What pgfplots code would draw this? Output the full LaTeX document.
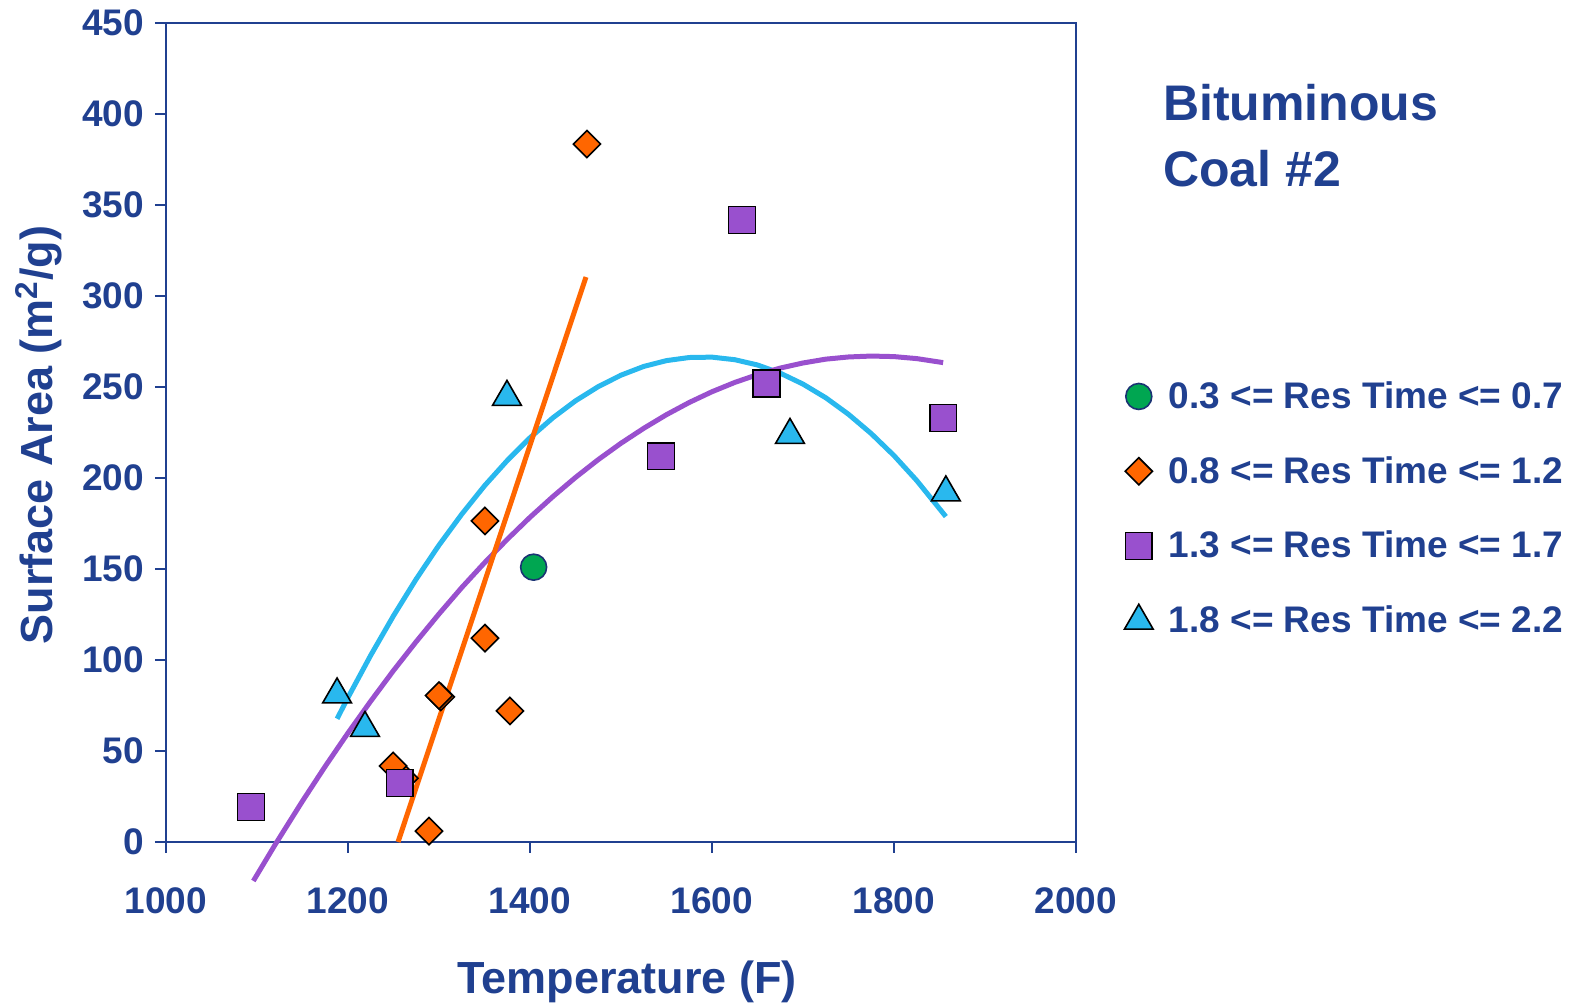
\documentclass[border=0pt]{standalone}
\usepackage{pgfplots}
\pgfplotsset{compat=1.18}
\usepackage{fontspec}
\setmainfont{Liberation Sans}

\definecolor{axisblue}{RGB}{32,64,144}
\definecolor{ptgreen}{RGB}{0,166,81}
\definecolor{ptorange}{RGB}{255,102,0}
\definecolor{ptpurple}{RGB}{153,80,206}
\definecolor{ptcyan}{RGB}{41,184,238}

\begin{document}
\begin{tikzpicture}
\begin{axis}[
  scale only axis,
  width=455pt, height=409.5pt,
  xmin=1000, xmax=2000, ymin=0, ymax=450,
  xtick={1000,1200,...,2000},
  ytick={0,50,...,450},
  clip=false,
  tick pos=left,
  tick align=outside,
  major tick length=5.5pt,
  axis line style={axisblue, line width=0.9pt},
  tick style={axisblue, line width=0.9pt},
  /pgf/number format/assume math mode=true,
  /pgf/number format/1000 sep={},
  ticklabel style={font=\bfseries\fontsize{18.5}{20}\selectfont, text=axisblue},
  xticklabel style={yshift=-14pt},
  yticklabel style={xshift=-2pt},
  xlabel={Temperature (F)},
  ylabel={Surface Area (m\textsuperscript{2}/g)},
  xlabel style={at={(axis description cs:0.5066,-0.1844)}, anchor=base,
    font=\bfseries\fontsize{22.5}{24}\selectfont, text=axisblue},
  ylabel style={at={(axis description cs:-0.1242,0.497)}, anchor=base, rotate=0,
    font=\bfseries\fontsize{22.5}{24}\selectfont, text=axisblue},
  legend cell align=left,
  legend image code/.code={%
    \path[draw=none, fill=none] (0.3cm-8.5pt,0cm) -- (0.3cm+13pt,0cm);
    \draw[#1] plot coordinates {(0.3cm,0cm)};},
  legend style={at={(axis description cs:1.0433,0.407)}, anchor=west, draw=none, fill=none,
    font=\bfseries\fontsize{18.5}{20}\selectfont, text=axisblue, row sep=18.5pt},
]

% fitted trend for 1.8-2.2 s residence time
\addplot[ptcyan, line width=2.5pt, forget plot] coordinates {
 (1188,67.7) (1200,79.4) (1225,102.6) (1250,124.3) (1275,144.5) (1300,163.1)
 (1325,180.1) (1350,195.7) (1375,209.6) (1400,222.1) (1425,233.0) (1450,242.4)
 (1475,250.2) (1500,256.5) (1525,261.3) (1550,264.5) (1575,266.2) (1600,266.4)
 (1625,265.0) (1650,262.1) (1675,257.6) (1700,251.6) (1725,244.1) (1750,235.0)
 (1775,224.4) (1800,212.3) (1825,198.6) (1857,178.8)
};
% fitted trend for 1.3-1.7 s residence time
\addplot[ptpurple, line width=2.5pt, forget plot] coordinates {
 (1096,-21.4) (1120,-1.4) (1150,22.5) (1175,41.6) (1200,59.9) (1225,77.4)
 (1250,94.2) (1275,110.1) (1300,125.3) (1325,139.8) (1350,153.4) (1375,166.3)
 (1400,178.4) (1425,189.7) (1450,200.3) (1475,210.1) (1500,219.1) (1525,227.3)
 (1550,234.8) (1575,241.5) (1600,247.4) (1625,252.5) (1650,256.8) (1675,260.4)
 (1700,263.2) (1725,265.3) (1750,266.5) (1775,267.0) (1800,266.7) (1825,265.6)
 (1854,263.4)
};
% linear trend for 0.8-1.2 s residence time
\addplot[ptorange, line width=2.5pt, forget plot] coordinates {
 (1255,0) (1461.5,310.4)
};

\addplot[only marks, mark=*, mark size=6.5pt,
  mark options={fill=ptgreen, draw=axisblue!80!black, line width=0.8pt}] coordinates {
 (1404,151)
};
\addlegendentry{0.3 <= Res Time <= 0.7}

\addplot[only marks, mark=square*, mark size=4.8pt,
  mark options={rotate=45, fill=ptorange, draw=black, line width=0.8pt}] coordinates {
 (1262,35) (1249.5,41.8) (1289,6) (1302,79.7) (1300,80.5) (1350.5,112)
 (1350.5,176.4) (1378,72) (1462.6,383.5)
};
\addlegendentry{0.8 <= Res Time <= 1.2}

\addplot[only marks, mark=square*, mark size=6.7pt,
  mark options={fill=ptpurple, draw=black, line width=0.8pt}] coordinates {
 (1093.4,19.2) (1257,32.4) (1544,212) (1633,341.8) (1660,252) (1854,233)
};
\addlegendentry{1.3 <= Res Time <= 1.7}

\addplot[only marks, mark=triangle*, mark size=8.3pt,
  mark options={fill=ptcyan, draw=black, line width=0.8pt}] coordinates {
 (1188,81) (1218.7,62.6) (1374.7,244.5) (1685.7,223.6) (1857,192)
};
\addlegendentry{1.8 <= Res Time <= 2.2}

\node[anchor=base west, align=left, text=axisblue,
  font=\bfseries\fontsize{25}{33}\selectfont]
  at (axis description cs:1.0879,0.7998) {Bituminous\\Coal \#2};
\end{axis}
\pgfresetboundingbox
\path (-83pt,-82pt) rectangle (702.5pt,421pt);
\end{tikzpicture}
\end{document}
